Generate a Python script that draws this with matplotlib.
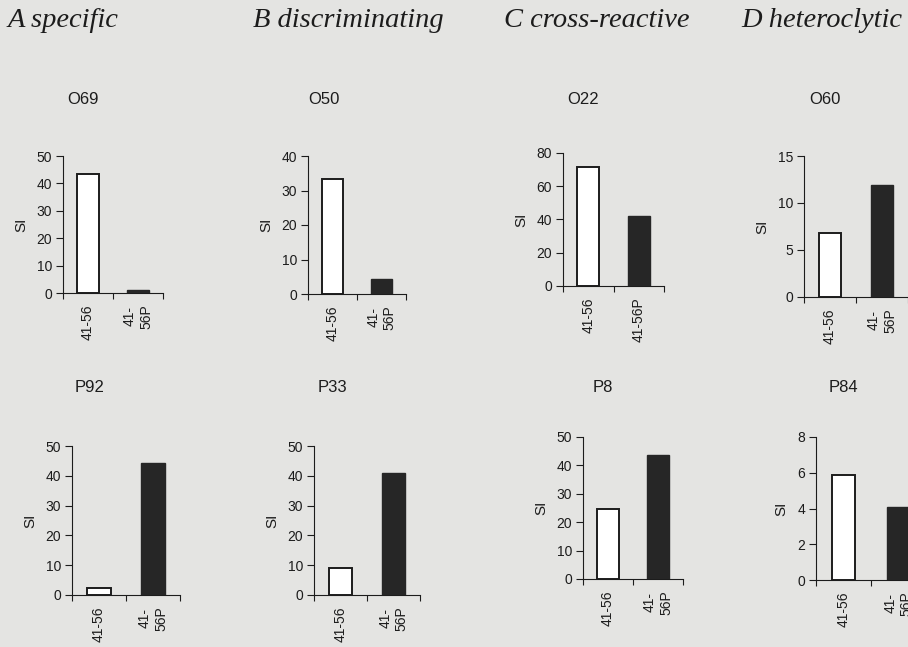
import matplotlib
matplotlib.use("Agg")
import matplotlib.pyplot as plt

# --- data -------------------------------------------------------------
group_headers = ["A specific", "B discriminating", "C cross-reactive", "D heteroclytic"]
peptides = ["41-56", "41-56P"]

top_clones = ["O69", "O50", "O22", "O60"]
top_native = [43.4, 33.3, 71.6, 6.8]
top_altered = [1.2, 4.3, 42.1, 11.9]
top_ymax = [50, 40, 80, 15]
top_ystep = [10, 10, 20, 5]

bottom_clones = ["P92", "P33", "P8", "P84"]
bottom_native = [2.3, 9.1, 24.6, 5.9]
bottom_altered = [44.3, 40.9, 43.7, 4.1]
bottom_ymax = [50, 50, 50, 8]
bottom_ystep = [10, 10, 10, 2]

# --- layout (pixel boxes: left, right, top, bottom) ---------------------
W, H = 908, 647
top_boxes = [(63, 163, 156, 293), (308, 406, 156, 294),
             (563, 664, 153, 286), (804, 908, 156, 297)]
bottom_boxes = [(72, 180, 446, 595), (314, 420, 446, 595),
                (583, 683, 437, 579), (816, 926, 437, 580)]
top_title_x = [83, 324, 583, 825]
bottom_title_x = [90, 332, 603, 843]
top_wrap = [True, True, False, True]
bottom_wrap = [True, True, True, True]
header_x = [8, 253, 504, 741]

BG = "#e4e4e2"
INK = "#1c1c1c"
DARK = "#262626"

plt.rcParams["font.family"] = ["Liberation Sans", "DejaVu Sans"]

fig = plt.figure(figsize=(W / 100, H / 100), dpi=100, facecolor=BG)

for x, txt in zip(header_x, group_headers):
    fig.text(x / W, 1 - 27 / H, txt, family="Liberation Serif", style="italic",
             fontsize=20.5, color=INK, ha="left", va="baseline")


def wrapped(label):
    # break "41-56P" after the hyphen
    head, tail = label.split("-", 1)
    return head + "-\n" + tail


def panel(box, title, title_x, title_y, native, altered, ymax, ystep, wrap):
    l, r, t, b = box
    ax = fig.add_axes([l / W, 1 - b / H, (r - l) / W, (b - t) / H])
    ax.set_facecolor("none")
    ax.bar([0.5], [native], width=0.43, color="white", edgecolor=INK,
           linewidth=1.4, zorder=3)
    ax.bar([1.5], [altered], width=0.43, color=DARK, edgecolor=DARK,
           linewidth=1.0, zorder=3)
    ax.set_xlim(0, 2)
    ax.set_ylim(0, ymax)
    ax.set_yticks(range(0, ymax + 1, ystep))
    ax.set_xticks([0, 1, 2])
    ax.set_xticklabels([])
    labels = [peptides[0], wrapped(peptides[1]) if wrap else peptides[1]]
    ax.set_xticks([0.5, 1.5], minor=True)
    ax.set_xticklabels(labels, minor=True, rotation=90, fontsize=10,
                       color=INK, va="top", ha="center", multialignment="center")
    ax.tick_params(axis="x", which="major", direction="out", length=4,
                   width=0.8, color=INK)
    ax.tick_params(axis="x", which="minor", length=0, pad=8)
    ax.tick_params(axis="y", direction="out", length=5, width=0.8,
                   color=INK, labelcolor=INK, labelsize=10, pad=3)
    for s in ("top", "right"):
        ax.spines[s].set_visible(False)
    for s in ("left", "bottom"):
        ax.spines[s].set_linewidth(0.8)
        ax.spines[s].set_color(INK)
    ax.set_ylabel("SI", fontsize=11, color=INK, labelpad=6)
    fig.text(title_x / W, 1 - title_y / H, title, fontsize=12, color=INK,
             ha="center", va="center")
    return ax


for i in range(4):
    panel(top_boxes[i], top_clones[i], top_title_x[i], 100,
          top_native[i], top_altered[i], top_ymax[i], top_ystep[i], top_wrap[i])
    panel(bottom_boxes[i], bottom_clones[i], bottom_title_x[i], 387,
          bottom_native[i], bottom_altered[i], bottom_ymax[i], bottom_ystep[i],
          bottom_wrap[i])

fig.savefig("out.png", dpi=100, facecolor=BG)
